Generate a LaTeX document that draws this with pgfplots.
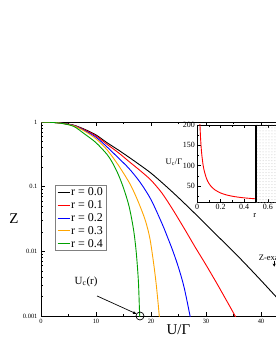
\documentclass[border=0pt]{standalone}
\usepackage{fontspec}
\setmainfont{Liberation Serif}
\usepackage{pgfplots}
\usepackage{pgfplotstable}
\pgfplotsset{compat=1.18}
\usetikzlibrary{patterns,arrows.meta}
\definecolor{xred}{RGB}{255,0,0}
\definecolor{xblue}{RGB}{0,0,255}
\definecolor{xorange}{RGB}{255,165,0}
\definecolor{xgreen}{RGB}{0,160,0}

\pgfplotstableread{
U Z
0 1
2 0.9886
4 0.955
6 0.891
8 0.767
10 0.631
12 0.479
14 0.372
16 0.285
18 0.216
20 0.162
22.5 0.106
25 0.0676
27.5 0.0422
30 0.0260
32.5 0.0160
35 0.00989
37.5 0.00596
40 0.00355
42.5 0.00209
45 0.00123
47.5 0.000724
50 0.000427
}\rzero
\pgfplotstableread{
U Z
0 1
2 0.9886
4 0.953
6 0.885
8 0.750
10 0.610
12 0.452
14 0.339
16 0.245
18 0.178
20 0.126
22 0.0794
24 0.0437
26 0.0229
28 0.01175
30 0.00617
32 0.00316
34 0.00158
35.3 0.001
36 0.00076
}\rone
\pgfplotstableread{
U Z
0 1
2 0.9886
4 0.951
6 0.879
8 0.733
10 0.582
12 0.412
14 0.282
16 0.191
18 0.1175
20 0.0631
22 0.0269
23 0.0166
24 0.0100
25 0.00562
26 0.00282
27.1 0.0010
27.5 0.00063
}\rtwo
\pgfplotstableread{
U Z
0 1
2 0.9886
4 0.948
6 0.871
8 0.716
10 0.550
12 0.372
14 0.219
16 0.1175
17 0.0794
18 0.0501
19 0.0295
19.8 0.0158
20.5 0.00631
21 0.00282
21.5 0.0010
21.7 0.0005
}\rthree
\pgfplotstableread{
U Z
0 1
2 0.9863
4 0.944
6 0.851
8 0.646
10 0.479
12 0.316
13 0.234
14 0.158
15 0.0955
16 0.0501
16.8 0.0224
17.3 0.0100
17.7 0.00355
17.9 0.00126
18.0 0.00079
}\rfour
\pgfplotstableread{
r Uc
0.024 208.9
0.025 200.9
0.03 168.9
0.035 146.0
0.04 128.9
0.05 104.9
0.06 88.9
0.08 68.9
0.1 56.9
0.125 47.3
0.15 40.9
0.2 32.9
0.25 28.1
0.3 24.9
0.35 22.6
0.4 20.9
0.45 19.6
0.5 18.5
}\ucr

\begin{document}
\begin{tikzpicture}
\path[use as bounding box] (0bp,0bp) rectangle (276bp,358bp);
\clip (0bp,0bp) rectangle (276bp,358bp);
\begin{axis}[
  at={(41bp,42bp)}, anchor=south west,
  scale only axis, width=275bp, height=194bp,
  xmin=0, xmax=50, ymode=log, ymin=0.001, ymax=1,
  clip mode=individual,
  xtick={0,10,20,30,40,50}, minor xtick={5,15,25,35,45},
  ytick={0.001,0.01,0.1,1}, yticklabels={0.001,0.01,0.1,1},
  minor ytick={0.002,0.003,0.004,0.005,0.006,0.007,0.008,0.009,0.02,0.03,0.04,0.05,0.06,0.07,0.08,0.09,0.2,0.3,0.4,0.5,0.6,0.7,0.8,0.9},
  tick align=inside, major tick length=4bp, minor tick length=2bp,
  tick style={black, line width=0.5bp},
  axis line style={line width=0.8bp},
  ticklabel style={font=\fontsize{6.5}{7}\selectfont},
  /pgf/number format/assume math mode=true,
  xlabel={U/Γ}, ylabel={Z},
  label style={font=\fontsize{15}{15}\selectfont},
  x label style={at={(axis description cs:0.5,-0.072)}, anchor=center},
  y label style={at={(axis description cs:-0.098,0.5)}, anchor=center, rotate=-90},
  legend style={at={(0.0509,0.675)}, anchor=north west, draw=gray, line width=0.6bp, fill=white,
    font=\fontsize{12}{12}\selectfont, inner xsep=2bp, inner ysep=1bp, row sep=1.5bp,
    nodes={inner sep=1bp}},
  legend cell align=left,
  legend image code/.code={\draw[#1, line width=0.9bp] (0bp,0bp) -- (12bp,0bp);},
  every axis plot/.append style={line width=0.9bp, smooth},
]
\addplot[black] table {\rzero}; \addlegendentry{r = 0.0}
\addplot[xred] table {\rone}; \addlegendentry{r = 0.1}
\addplot[xblue] table {\rtwo}; \addlegendentry{r = 0.2}
\addplot[xorange] table {\rthree}; \addlegendentry{r = 0.3}
\addplot[xgreen] table {\rfour}; \addlegendentry{r = 0.4}
\draw[line width=0.7bp, -{Latex[length=4bp,width=3bp]}] (axis cs:10.2,0.00204) -- (axis cs:17.45,0.00107);
\draw[line width=0.7bp] (axis cs:18,0.001) circle[radius=4bp];
\node[font=\fontsize{11}{11}\selectfont, inner sep=0pt] at (axis cs:8.2,0.0034) {U\textsubscript{c}(r)};
\node[font=\fontsize{8.5}{8.5}\selectfont, anchor=west, inner sep=0pt] at (axis cs:39.6,0.0079) {Z-exact};
\draw[line width=0.6bp, -{Stealth[length=3bp,width=3bp]}] (axis cs:42.4,0.0072) -- (axis cs:42.4,0.0058);
\end{axis}
\begin{axis}[
  at={(197bp,155.7bp)}, anchor=south west,
  scale only axis, width=118bp, height=77.3bp,
  xmin=0, xmax=1, ymin=10, ymax=200,
  xtick={0,0.2,0.4,0.6,0.8,1}, xticklabels={0,0.2,0.4,0.6,0.8,1},
  minor xtick={0.1,0.3,0.5,0.7,0.9},
  ytick={50,100,150,200}, minor ytick={25,75,125,175},
  tick align=inside, major tick length=3.5bp, minor tick length=2bp,
  tick style={black, line width=0.5bp},
  axis line style={line width=0.8bp},
  axis background/.style={fill=white},
  ticklabel style={font=\fontsize{8}{8}\selectfont},
  /pgf/number format/assume math mode=true,
  xticklabel style={inner sep=2bp},
  yticklabel style={inner sep=2bp},
  xlabel={r}, ylabel={U\textsubscript{c}/Γ},
  label style={font=\fontsize{8.5}{8.5}\selectfont},
  x label style={at={(axis description cs:0.49,-0.177)}, anchor=center},
  y label style={at={(axis description cs:-0.195,0.52)}, anchor=center, rotate=-90},
]
\fill[pattern=dots, pattern color=gray!45] (axis cs:0.5,10) rectangle (axis cs:1,200);
\addplot[xred, line width=0.9bp, smooth] table {\ucr};
\draw[line width=1.5bp] (axis cs:0.5,10) -- (axis cs:0.5,200);
\end{axis}
\end{tikzpicture}
\end{document}
